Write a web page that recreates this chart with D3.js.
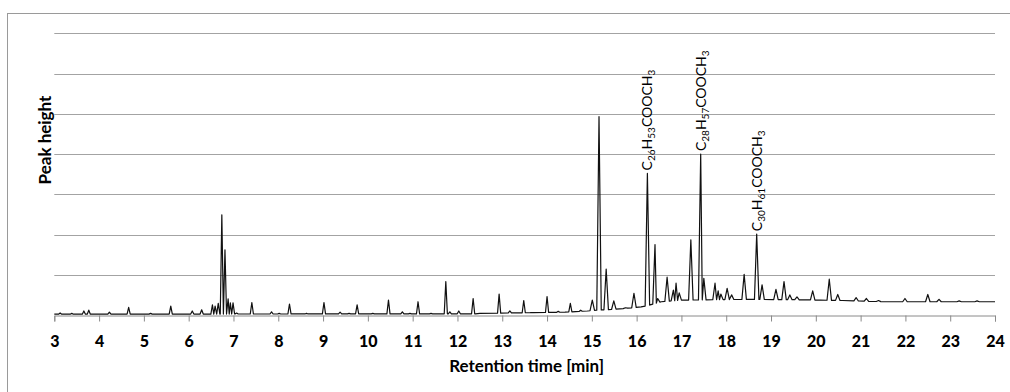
<!DOCTYPE html>
<html>
<head>
<meta charset="utf-8">
<script src="https://cdn.jsdelivr.net/npm/d3@7"></script>
<style>
  body { margin: 0; background: #fff; }
  svg { display: block; font-family: Lato, "Open Sans", sans-serif; }
</style>
</head>
<body>
<div id="chart"></div>
<script>
// peaks: retention time (min) and apex level (grid units)
const peakTimes = [3.13, 3.39, 3.66, 3.77, 4.23, 4.66, 5.15, 5.60, 6.08, 6.29,
    6.53, 6.59, 6.66, 6.74, 6.81, 6.88, 6.93, 6.99, 7.07, 7.41,
    7.85, 8.02, 8.25, 8.63, 9.02, 9.38, 9.58, 9.76, 10.11, 10.46,
    10.77, 10.94, 11.12, 11.41, 11.74, 11.83, 12.03, 12.35, 12.93, 13.17,
    13.48, 13.66, 14.00, 14.25, 14.52, 14.75, 15.01, 15.16, 15.32, 15.49,
    15.75, 15.94, 16.24, 16.41, 16.47, 16.68, 16.82, 16.88, 16.95, 17.21,
    17.43, 17.50, 17.75, 17.82, 17.88, 18.02, 18.12, 18.40, 18.68, 18.80,
    19.11, 19.29, 19.42, 19.58, 19.93, 20.30, 20.49, 20.90, 21.13, 21.40,
    21.99, 22.50, 22.75, 23.20, 23.60]
const peakHeights = [0.05, 0.04, 0.10, 0.12, 0.07, 0.19, 0.04, 0.22, 0.10, 0.13,
    0.25, 0.22, 0.29, 2.49, 1.62, 0.40, 0.30, 0.30, 0.05, 0.31,
    0.08, 0.04, 0.27, 0.04, 0.31, 0.07, 0.04, 0.25, 0.04, 0.37,
    0.08, 0.04, 0.33, 0.04, 0.83, 0.08, 0.10, 0.41, 0.52, 0.10,
    0.36, 0.06, 0.46, 0.09, 0.29, 0.12, 0.37, 4.93, 1.14, 0.35,
    0.18, 0.54, 3.52, 1.75, 0.41, 0.94, 0.62, 0.79, 0.55, 1.87,
    4.00, 0.91, 0.79, 0.60, 0.52, 0.66, 0.50, 1.01, 2.01, 0.75,
    0.64, 0.83, 0.50, 0.45, 0.60, 0.89, 0.51, 0.43, 0.41, 0.36,
    0.41, 0.51, 0.39, 0.35, 0.35]

// baseline drift under the peaks
const baseTimes = [3, 12.4, 12.5, 14.4, 14.9, 15.1, 15.5, 16.1, 16.3, 16.55, 17.0, 18.5, 19.5, 20.1, 20.6, 21.5, 24]
const baseLevels = [0.02, 0.03, 0.04, 0.07, 0.10, 0.12, 0.14, 0.20, 0.25, 0.33, 0.37, 0.39, 0.38, 0.37, 0.36, 0.33, 0.33]

const xTicks = d3.range(3, 25)
const gridLevels = [1, 2, 3, 4, 5, 6, 7]

// labelled peaks: time, carbon count, hydrogen count
const labelTimes = [16.24, 17.43, 18.68]
const labelC = ["26", "28", "30"]
const labelH = ["53", "57", "61"]

const width = 1010, height = 392
const config = {
    left: 54.3, right: 995, top: 33.4, bottom: 315,
    grid: "#a3a3a3", axis: "#8a8a8a", line: "#111"
}

const svg = d3.select("#chart").append("svg")
    .attr("width", width)
    .attr("height", height)

// outer chart frame (only top/left edges fall inside the window)
svg.append("rect")
    .attr("x", 7.5).attr("y", 13.5)
    .attr("width", 1010).attr("height", 400)
    .attr("fill", "none")
    .attr("stroke", "#9a9a9a")

const scale_x = d3.scaleLinear().domain([3, 24]).range([config.left, config.right])
const scale_y = d3.scaleLinear().domain([0, 7]).range([config.bottom, config.top])
const base = d3.scaleLinear().domain(baseTimes).range(baseLevels)

// gridlines
svg.append("g")
    .selectAll("line")
    .data(gridLevels)
    .join("line")
    .attr("x1", config.left).attr("x2", config.right)
    .attr("y1", d => Math.round(scale_y(d)) + 0.5)
    .attr("y2", d => Math.round(scale_y(d)) + 0.5)
    .attr("stroke", config.grid)

// x axis
const g_axisX = svg.append("g")
    .attr("transform", `translate(0, ${config.bottom + 0.5})`)
    .call(d3.axisBottom(scale_x).tickValues(xTicks).tickSize(6).tickPadding(14).tickFormat(d3.format("d")))
g_axisX.select(".domain").attr("stroke", config.axis)
g_axisX.selectAll(".tick line").attr("stroke", config.axis)
g_axisX.selectAll(".tick text")
    .attr("font-family", "Lato, sans-serif")
    .attr("font-size", 16)
    .attr("font-weight", "900")
    .attr("fill", "#000")

// build the trace: baseline + triangular peaks
const peaks = peakTimes.map((t, i) => ({ t, h: peakHeights[i], w: t < 15 ? 0.035 : 0.05 }))
let pts = []
peaks.forEach((p, i) => {
    let lo = p.t - p.w, hi = p.t + p.w
    if (i > 0) lo = Math.max(lo, (peaks[i - 1].t + p.t) / 2)
    if (i < peaks.length - 1) hi = Math.min(hi, (peaks[i + 1].t + p.t) / 2)
    p.lo = lo; p.hi = hi
    pts.push([lo, base(lo)], [p.t, p.h], [hi, base(hi)])
})
baseTimes.forEach((t, i) => {
    if (!peaks.some(p => t >= p.lo && t <= p.hi)) pts.push([t, baseLevels[i]])
})
pts.sort((a, b) => a[0] - b[0])

svg.append("path")
    .datum(pts)
    .attr("fill", "none")
    .attr("stroke", config.line)
    .attr("stroke-width", 1.2)
    .attr("stroke-linejoin", "round")
    .attr("d", d3.line().x(d => scale_x(d[0])).y(d => scale_y(d[1])))

// axis titles
svg.append("text")
    .attr("x", (config.left + config.right) / 2 + 2)
    .attr("y", 372)
    .attr("text-anchor", "middle")
    .attr("font-size", 17)
    .attr("font-weight", "bold")
    .text("Retention time [min]")

svg.append("text")
    .attr("transform", `translate(51, 140) rotate(-90)`)
    .attr("text-anchor", "middle")
    .attr("font-size", 17)
    .attr("font-weight", "bold")
    .text("Peak height")

// peak labels
labelTimes.forEach((t, i) => {
    const p = peaks.find(d => d.t === t)
    const txt = svg.append("text")
        .attr("transform", `translate(${scale_x(t) + 5}, ${scale_y(p.h) - 3}) rotate(-90)`)
        .attr("font-size", 14)
        .attr("fill", "#000")
    txt.append("tspan").text("C")
    txt.append("tspan").attr("font-size", 10).attr("dy", 3).text(labelC[i])
    txt.append("tspan").attr("dy", -3).text("H")
    txt.append("tspan").attr("font-size", 10).attr("dy", 3).text(labelH[i])
    txt.append("tspan").attr("dy", -3).text("COOCH")
    txt.append("tspan").attr("font-size", 10).attr("dy", 3).text("3")
})
</script>
</body>
</html>
